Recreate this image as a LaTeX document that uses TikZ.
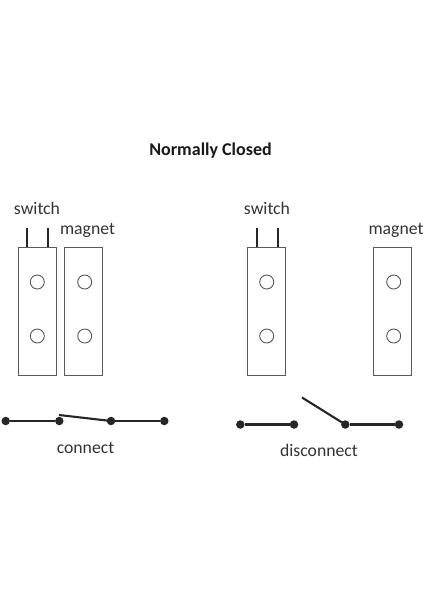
\documentclass[tikz,border=0pt]{standalone}
\usepackage{fontspec}
\setmainfont{Carlito}
\tikzset{
  x=1pt,y=-1pt,
  body/.style={draw=black!65,line width=1pt,fill=white},
  hole/.style={circle,draw=black!65,line width=0.9pt,minimum size=14pt,inner sep=0pt},
  pin/.style={draw=black!85,line width=2.1pt},
  term/.style={circle,fill=black!85,minimum size=8.5pt,inner sep=0pt},
  wire/.style={draw=black!85,line width=2.1pt},
  label/.style={text=black!80,font=\fontsize{17.7}{17.7}\selectfont,inner sep=0pt,anchor=base},
  titlelabel/.style={text=black!90,font=\fontsize{18}{18}\selectfont\bfseries,inner sep=0pt,anchor=base}
}
\begin{document}
\begin{tikzpicture}
\useasboundingbox[fill=white] (0,0) rectangle (424,600);
\node[titlelabel] (title) at (210.5,155) {Normally Closed};
% left
\node[label] (sw1) at (37,214) {switch};
\node[label] (mag1) at (87.5,234) {magnet};
\node[body,minimum width=38pt,minimum height=128pt,inner sep=0pt] (b1) at (37.3,311.5) {};
\node[body,minimum width=38pt,minimum height=128pt,inner sep=0pt] (m1) at (83.5,311.5) {};
\node[hole] (h1a) at (37.3,282) {};
\node[hole] (h1b) at (37.3,336) {};
\node[hole] (h1c) at (84.7,282) {};
\node[hole] (h1d) at (84.7,336) {};
\coordinate (p1a) at (27.3,228);
\coordinate (p1b) at (48.3,228);
\draw[pin] (p1a) -- (p1a |- b1.north);
\draw[pin] (p1b) -- (p1b |- b1.north);
\node[term] (t1) at (5.7,421) {};
\node[term] (t2) at (59.3,421) {};
\node[term] (t3) at (111,421) {};
\node[term] (t4) at (164.3,421) {};
\coordinate (bl1) at (59,415);
\draw[wire] (t1) -- (t2);
\draw[wire] (bl1) -- (t3.center);
\draw[wire] (t3) -- (t4);
\node[label] (c1) at (85.5,453) {connect};
% right
\node[label] (sw2) at (267,214) {switch};
\node[label] (mag2) at (396,234) {magnet};
\node[body,minimum width=38pt,minimum height=128pt,inner sep=0pt] (b2) at (266.8,311.5) {};
\node[body,minimum width=38pt,minimum height=128pt,inner sep=0pt] (m2) at (392.3,311.5) {};
\node[hole] (h2a) at (266.7,282) {};
\node[hole] (h2b) at (266.7,336) {};
\node[hole] (h2c) at (393.7,282) {};
\node[hole] (h2d) at (393.7,336) {};
\coordinate (p2a) at (256.7,228);
\coordinate (p2b) at (277.7,228);
\draw[pin] (p2a) -- (p2a |- b2.north);
\draw[pin] (p2b) -- (p2b |- b2.north);
\node[term] (t5) at (240.3,424.5) {};
\node[term] (t6) at (294,424.5) {};
\node[term] (t7) at (345.3,424.5) {};
\node[term] (t8) at (399,424.5) {};
\coordinate (bl2) at (302,397.5);
\draw[wire] (t5) -- (t6);
\draw[wire] (bl2) -- (t7.center);
\draw[wire] (t7) -- (t8);
\node[label] (c2) at (319,456) {disconnect};
\end{tikzpicture}
\end{document}
